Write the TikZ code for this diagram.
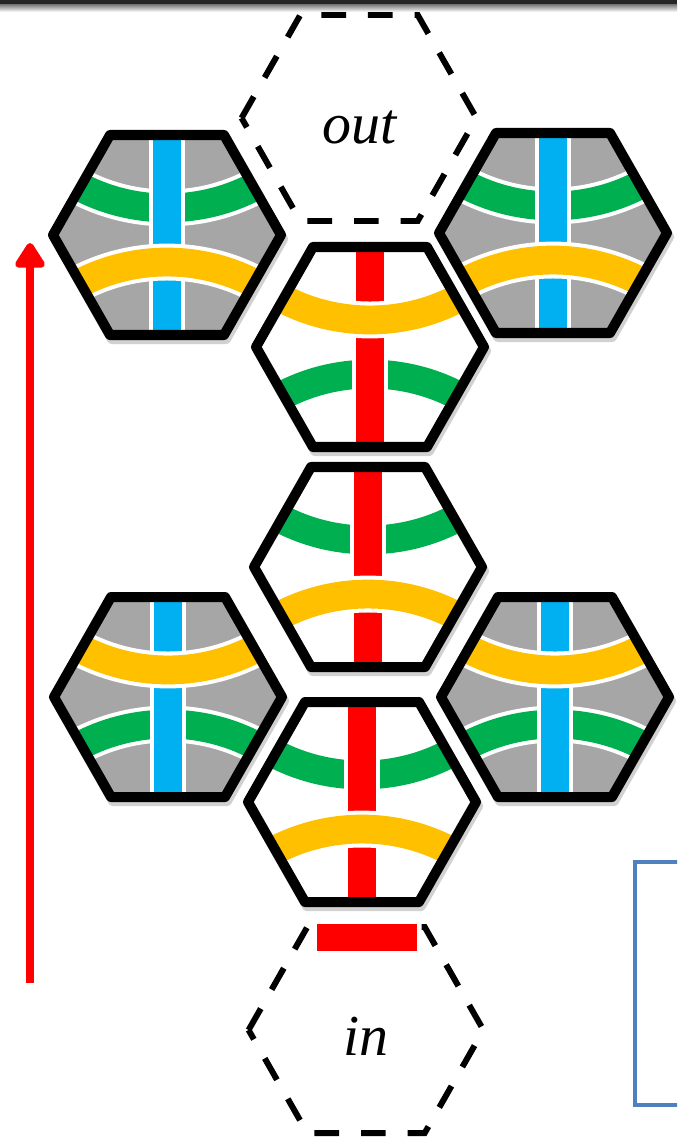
\documentclass[tikz,border=0pt]{standalone}
\usepackage{fontspec}
\setmainfont{Liberation Serif}
\usetikzlibrary{arrows.meta}
\definecolor{hgray}{HTML}{A6A6A6}
\definecolor{hblue}{HTML}{00B0F0}
\definecolor{hgreen}{HTML}{00B050}
\definecolor{hyellow}{HTML}{FFC000}
\definecolor{hred}{HTML}{FF0000}
\definecolor{boxblue}{HTML}{4F81BD}
\def\hexp{(-114,0) -- (-57,-100) -- (57,-100) -- (114,0) -- (57,100) -- (-57,100) -- cycle}
\tikzset{
  bandgap/.style={white, line width=21pt},
  band/.style={line width=16.4pt},
  hexline/.style={black, line width=5.7pt, line join=round},
  hexshadow/.style={black, opacity=0.18, line width=5.7pt, line join=round},
  dashhex/.style={black, line width=3.4pt, dash pattern=on 14pt off 12.5pt},
  lbl/.style={font=\itshape\fontsize{33}{38}\selectfont, inner sep=0pt, anchor=base}
}
% #1 cx, #2 cy, #3 fill, #4 green circle offset, #5 yellow circle offset, #6 bar colour
\newcommand\hextile[6]{%
\begin{scope}[shift={(#1,#2)}]
  \draw[hexshadow, shift={(2,4)}] \hexp;
  \begin{scope}
    \clip \hexp;
    \fill[#3] \hexp;
    \draw[bandgap] (0,#4) circle[radius=3.8cm];
    \draw[band, hgreen] (0,#4) circle[radius=3.8cm];
    \draw[bandgap] (0,-115) -- (0,115);
    \draw[band, #6] (0,-115) -- (0,115);
    \draw[bandgap] (0,#5) circle[radius=3.8cm];
    \draw[band, hyellow] (0,#5) circle[radius=3.8cm];
  \end{scope}
  \draw[hexline] \hexp;
\end{scope}}
\begin{document}
\begin{tikzpicture}[x=0.02cm, y=-0.02cm]
\useasboundingbox (0,0) rectangle (677,1139);
\clip (0,0) rectangle (677,1139);
\fill[white] (0,0) rectangle (677,1139);
% top rule
\fill[black!85] (0,0) rectangle (677,4);
\shade[top color=black!55, bottom color=white] (0,4) rectangle (677,12);
% dashed out hexagon
\begin{scope}[shift={(359,118)}, scale=1.03]
  \draw[dashhex] \hexp;
\end{scope}
\node[lbl] (outlbl) at (360,143) {out};
% dashed in hexagon
\begin{scope}[shift={(366,1030)}, scale=1.03]
  \draw[dashhex] \hexp;
\end{scope}
\node[lbl] (inlbl) at (366,1055) {in};
\fill[hred] (317,924) rectangle (417,951);
% tiles
\hextile{167}{235}{hgray}{-217}{217}{hblue}
\hextile{553}{233}{hgray}{-217}{217}{hblue}
\hextile{370}{347}{white}{217}{-217}{hred}
\hextile{368}{567}{white}{-217}{217}{hred}
\hextile{168}{697}{hgray}{217}{-217}{hblue}
\hextile{555}{697}{hgray}{217}{-217}{hblue}
\hextile{362}{802}{white}{-217}{217}{hred}
% arrow
\coordinate (arrowtail) at (30,983);
\coordinate (arrowtip) at (30,243);
\draw[hred, line width=5pt, -{Triangle[width=19pt,length=16pt,round]}] (arrowtail) -- (arrowtip);
% blue box
\draw[boxblue, line width=2.3pt] (635,862) rectangle (720,1105);
\end{tikzpicture}
\end{document}
